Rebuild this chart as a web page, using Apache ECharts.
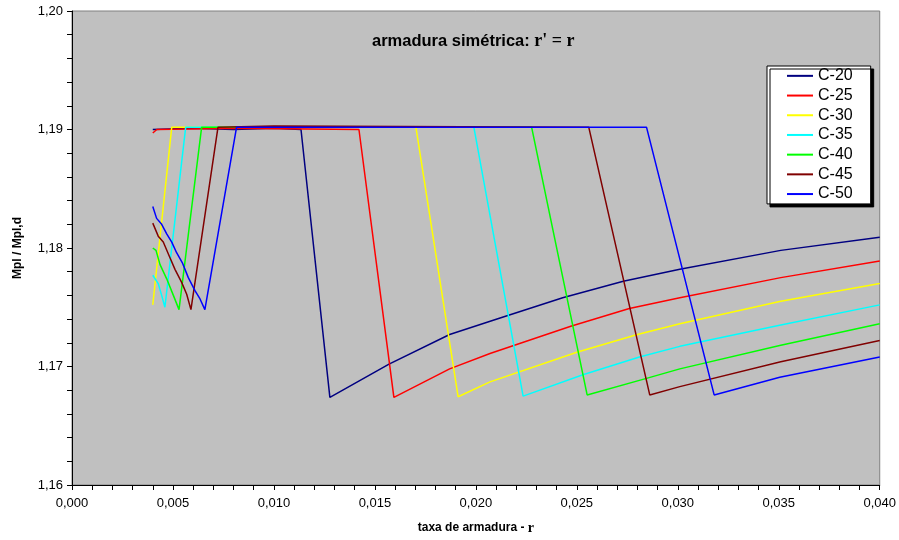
<!DOCTYPE html>
<html>
<head>
<meta charset="utf-8">
<script src="https://cdn.jsdelivr.net/npm/echarts@6/dist/echarts.min.js"></script>
<style>
  html, body { margin: 0; padding: 0; background: #ffffff; }
  #chart { width: 899px; height: 540px; }
</style>
</head>
<body>
<div id="chart"></div>
<script>
// Concrete classes and their line colours
const seriesNames = ['C-20', 'C-25', 'C-30', 'C-35', 'C-40', 'C-45', 'C-50'];
const seriesColors = ['#000080', '#ff0000', '#ffff00', '#00ffff', '#00ff00', '#800000', '#0000ff'];

// [taxa de armadura, Mpl / Mpl,d] for each class
const c20 = [[0.0040,1.1900],[0.0060,1.1901],[0.0080,1.1900],[0.0100,1.1901],[0.01134,1.1900],[0.01277,1.1674],[0.0157,1.1702],[0.0187,1.1727],[0.0212,1.1741],[0.0243,1.1758],[0.0273,1.1772],[0.0301,1.1782],[0.0351,1.1798],[0.0400,1.1809]];
const c25 = [[0.0040,1.1897],[0.0042,1.1900],[0.0080,1.1901],[0.01421,1.1900],[0.01594,1.1674],[0.0187,1.1698],[0.0207,1.1711],[0.0247,1.1734],[0.0276,1.1749],[0.0301,1.1758],[0.0351,1.1775],[0.0400,1.1789]];
const c30 = [[0.0040,1.1752],[0.00494,1.1902],[0.0100,1.1902],[0.01703,1.1902],[0.01912,1.16745],[0.0207,1.1687],[0.0250,1.1712],[0.0280,1.1727],[0.0301,1.1736],[0.0351,1.1755],[0.0400,1.1770]];
const c35 = [[0.0040,1.1777],[0.00427,1.1770],[0.00444,1.1760],[0.0046,1.1750],[0.00563,1.1902],[0.0100,1.1902],[0.0199,1.1902],[0.02234,1.1675],[0.0253,1.1693],[0.0281,1.1708],[0.0301,1.1717],[0.0351,1.1735],[0.0400,1.1752]];
const c40 = [[0.0040,1.1800],[0.00416,1.1798],[0.00436,1.1786],[0.00469,1.1774],[0.00502,1.1760],[0.0053,1.1748],[0.00642,1.1902],[0.0100,1.1902],[0.02276,1.1902],[0.02551,1.1676],[0.02845,1.1690],[0.0301,1.1698],[0.0351,1.1718],[0.0400,1.1736]];
const c45 = [[0.0040,1.1821],[0.00427,1.1810],[0.00452,1.1805],[0.00482,1.1793],[0.0051,1.1782],[0.00543,1.1771],[0.00568,1.1761],[0.00589,1.1748],[0.00723,1.1902],[0.0100,1.1903],[0.02559,1.1902],[0.02861,1.1676],[0.0301,1.1683],[0.0351,1.1704],[0.0400,1.1722]];
const c50 = [[0.0040,1.1835],[0.00419,1.1825],[0.00444,1.1820],[0.00469,1.1812],[0.00494,1.1805],[0.00518,1.1796],[0.00548,1.1787],[0.00576,1.1775],[0.00609,1.1764],[0.00634,1.1757],[0.00658,1.1748],[0.00815,1.1902],[0.0100,1.1902],[0.02845,1.1902],[0.0318,1.1676],[0.03505,1.1691],[0.0400,1.1708]];
const seriesData = [c20, c25, c30, c35, c40, c45, c50];

// Axis ranges and ticks
const xMin = 0, xMax = 0.040, xStep = 0.005;
const yMin = 1.16, yMax = 1.20, yStep = 0.01;

const sans = 'Arial, "Liberation Sans", sans-serif';
const serif = '"Times New Roman", "Liberation Serif", serif';

const chart = echarts.init(document.getElementById('chart'), null, { renderer: 'canvas' });

chart.setOption({
  backgroundColor: '#ffffff',
  animation: false,
  title: {
    text: '{a|armadura simétrica: }{b|r\' = r}',
    left: 367,
    top: 27,
    textStyle: {
      rich: {
        a: { fontFamily: sans, fontWeight: 'bold', fontSize: 16.5, color: '#000' },
        b: { fontFamily: serif, fontWeight: 'bold', fontSize: 18, color: '#000' }
      }
    }
  },
  legend: {
    orient: 'vertical',
    left: 767,
    top: 66,
    padding: [0, 18, 0, 20],
    itemGap: 0,
    itemWidth: 26,
    itemHeight: 2,
    icon: 'rect',
    backgroundColor: '#ffffff',
    borderColor: '#000000',
    borderWidth: 1,
    borderRadius: 0,
    shadowColor: '#000000',
    shadowOffsetX: 3,
    shadowOffsetY: 3,
    shadowBlur: 0,
    textStyle: { fontFamily: sans, fontSize: 16, color: '#000', lineHeight: 19.7 },
    data: seriesNames
  },
  grid: {
    left: 72, right: 19, top: 11, bottom: 53,
    show: true,
    backgroundColor: '#c0c0c0',
    borderColor: '#808080',
    borderWidth: 1
  },
  xAxis: {
    type: 'value',
    min: xMin, max: xMax, interval: xStep,
    name: '{a|taxa de armadura - }{b|r}',
    nameLocation: 'middle',
    nameGap: 36,
    nameTextStyle: {
      rich: {
        a: { fontFamily: sans, fontWeight: 'bold', fontSize: 12, color: '#000' },
        b: { fontFamily: serif, fontWeight: 'bold', fontSize: 14, color: '#000' }
      }
    },
    axisLine: { show: true, lineStyle: { color: '#000', width: 1 } },
    axisTick: { show: true, inside: false, length: 5, lineStyle: { color: '#000' } },
    minorTick: { show: true, splitNumber: 5, length: 5, lineStyle: { color: '#000' } },
    splitLine: { show: false },
    axisLabel: {
      fontFamily: sans, fontSize: 13, color: '#000', margin: 12,
      formatter: v => v.toFixed(3).replace('.', ',')
    }
  },
  yAxis: {
    type: 'value',
    min: yMin, max: yMax, interval: yStep,
    name: 'Mpl / Mpl,d',
    nameLocation: 'middle',
    nameRotate: 90,
    nameGap: 48,
    nameTextStyle: { fontFamily: sans, fontWeight: 'bold', fontSize: 12, color: '#000' },
    axisLine: { show: true, lineStyle: { color: '#000', width: 1 } },
    axisTick: { show: true, inside: false, length: 5, lineStyle: { color: '#000' } },
    minorTick: { show: true, splitNumber: 5, length: 5, lineStyle: { color: '#000' } },
    splitLine: { show: false },
    axisLabel: {
      fontFamily: sans, fontSize: 13, color: '#000', margin: 9,
      formatter: v => v.toFixed(2).replace('.', ',')
    }
  },
  series: seriesNames.map((name, i) => ({
    name: name,
    type: 'line',
    data: seriesData[i],
    showSymbol: false,
    symbol: 'none',
    color: seriesColors[i],
    itemStyle: { color: seriesColors[i] },
    lineStyle: { color: seriesColors[i], width: 1.5 },
    clip: true
  }))
});
</script>
</body>
</html>
